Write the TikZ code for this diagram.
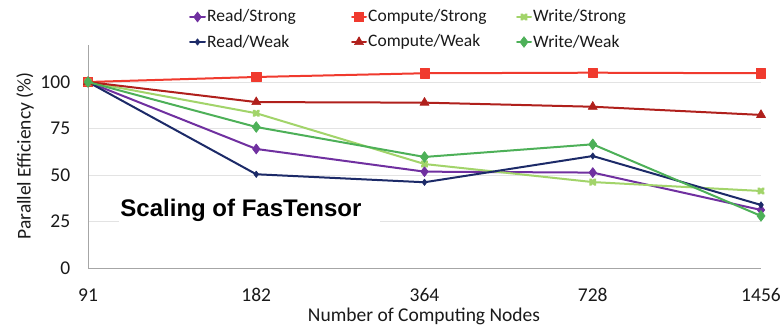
\documentclass[tikz,border=0pt]{standalone}
\usepackage{fontspec}
\setmainfont{Carlito}
\newfontfamily\headfont{Liberation Sans}
\usetikzlibrary{plotmarks}

\definecolor{readstrong}{HTML}{7030A0}
\definecolor{readweak}{HTML}{1C2A68}
\definecolor{compstrong}{HTML}{F03A2E}
\definecolor{compweak}{HTML}{B0201C}
\definecolor{writestrong}{HTML}{A2D46A}
\definecolor{writeweak}{HTML}{4DB058}
\definecolor{axisgray}{HTML}{A6A6A6}
\definecolor{gridgray}{HTML}{E3E3E3}
\definecolor{inktext}{HTML}{1A1A1A}

\begin{document}
\begin{tikzpicture}[x=1pt,y=1pt,
  series/.style={line width=2pt, line join=round, line cap=round},
  rsline/.style={series, readstrong, mark=diamond*, mark size=5pt,
    mark options={solid, fill=readstrong, line width=0.6pt}},
  rwline/.style={series, readweak, mark=diamond*, mark size=3.2pt,
    mark options={solid, fill=readweak, line width=0.6pt}},
  csline/.style={series, compstrong, mark=square*, mark size=4.6pt,
    mark options={solid, fill=compstrong, line width=0.6pt}},
  cwline/.style={series, compweak, mark=triangle*, mark size=5.2pt,
    mark options={solid, fill=compweak, line width=0.6pt}},
  wsline/.style={series, writestrong, mark=x, mark size=3.4pt,
    mark options={solid, line width=3pt}},
  wwline/.style={series, writeweak, mark=diamond*, mark size=5.4pt,
    mark options={solid, fill=writeweak, line width=0.6pt}},
  legtext/.style={anchor=west, inner sep=0pt, text=inktext, font=\fontsize{17.5}{20}\selectfont},
  ticklbl/.style={inner sep=0pt, text=inktext, font=\fontsize{19.5}{22}\selectfont},
  axtitle/.style={inner sep=0pt, text=inktext, font=\fontsize{19.5}{22}\selectfont}]

\useasboundingbox (0,0) rectangle (784,330);
\fill[white] (0,0) rectangle (784,330);

% ---- legend (two rows, three columns) ----
\draw[rsline, mark indices={2}] plot coordinates {(190,313) (197.5,313) (205,313)};
\node[legtext] (lRS) at (207,313) {Read/Strong};
\draw[rwline, mark indices={2}] plot coordinates {(190,288) (197.5,288) (205,288)};
\node[legtext] (lRW) at (207,288) {Read/Weak};
\draw[csline, mark indices={2}] plot coordinates {(352,313) (359,313) (366,313)};
\node[legtext] (lCS) at (368,313) {Compute/Strong};
\draw[cwline, mark indices={2}] plot coordinates {(352,288) (359,288) (366,288)};
\node[legtext] (lCW) at (368,288) {Compute/Weak};
\draw[wsline, mark indices={2}] plot coordinates {(517,313) (524,313) (531,313)};
\node[legtext] (lWS) at (533,313) {Write/Strong};
\draw[wwline, mark indices={2}] plot coordinates {(517,288) (524,288) (531,288)};
\node[legtext] (lWW) at (533,288) {Write/Weak};

% ---- plot area: origin at (88,62), 168.25 per category, 1.86 per percent ----
\begin{scope}[shift={(88,62)}, x=168.25pt, y=1.86pt]
  \foreach \v in {25,50,75,100}
    \draw[gridgray, line width=0.8pt] (0,\v) -- (4,\v);
  \draw[axisgray, line width=1pt] (0,0) -- (4,0);
  \draw[axisgray, line width=1pt] (0,0) -- (0,120);

  \foreach \v in {0,25,50,75,100}
    \node[ticklbl, anchor=east] (yt\v) at (-0.105,\v) {\v};
  \foreach \i/\n in {0/91,1/182,2/364,3/728,4/1456}
    \node[ticklbl] (xt\n) at (\i,-14.5) {\n};

  % chart caption on a white patch
  \fill[white] (0.184,16) rectangle (1.735,46);
  \node[inner sep=0pt, font=\headfont\bfseries\fontsize{24}{28}\selectfont]
    (caption) at (0.909,31) {Scaling of FasTensor};

  % data series
  \draw[rsline] plot coordinates {(0,100) (1,64) (2,51.8) (3,51.3) (4,31.2)};
  \draw[csline] plot coordinates {(0,100) (1,102.7) (2,104.7) (3,105) (4,104.7)};
  \draw[wsline] plot coordinates {(0,100) (1,83.2) (2,55.9) (3,46.2) (4,41.4)};
  \draw[rwline] plot coordinates {(0,100) (1,50.4) (2,46.1) (3,60.2) (4,33.9)};
  \draw[cwline] plot coordinates {(0,100) (1,89.2) (2,88.9) (3,86.7) (4,82.3)};
  \draw[wwline] plot coordinates {(0,100) (1,75.8) (2,59.7) (3,66.5) (4,28)};
\end{scope}

% ---- axis titles ----
\node[axtitle] (xtitle) at (424,14) {Number of Computing Nodes};
\node[axtitle, rotate=90] (ytitle) at (25,174) {Parallel Efficiency (\%)};
\end{tikzpicture}
\end{document}
